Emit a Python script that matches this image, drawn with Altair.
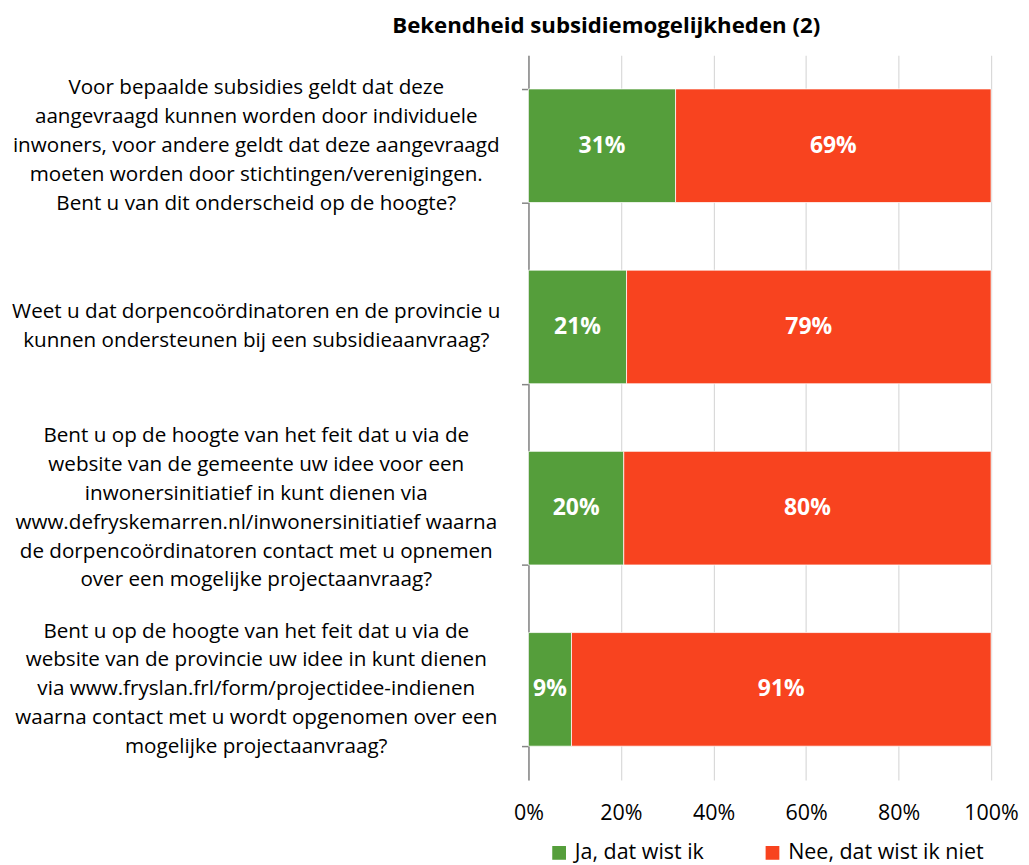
import altair as alt
import pandas as pd

questions = [
    "Voor bepaalde subsidies geldt dat deze|aangevraagd kunnen worden door individuele|inwoners, voor andere geldt dat deze aangevraagd|moeten worden door stichtingen/verenigingen.|Bent u van dit onderscheid op de hoogte?",
    "Weet u dat dorpencoördinatoren en de provincie u|kunnen ondersteunen bij een subsidieaanvraag?",
    "Bent u op de hoogte van het feit dat u via de|website van de gemeente uw idee voor een|inwonersinitiatief in kunt dienen via|www.defryskemarren.nl/inwonersinitiatief waarna|de dorpencoördinatoren contact met u opnemen|over een mogelijke projectaanvraag?",
    "Bent u op de hoogte van het feit dat u via de|website van de provincie uw idee in kunt dienen|via www.fryslan.frl/form/projectidee-indienen|waarna contact met u wordt opgenomen over een|mogelijke projectaanvraag?",
]
series = ["Ja, dat wist ik", "Nee, dat wist ik niet"]
ja_values = [31.8, 21.2, 20.6, 9.3]
nee_values = [68.2, 78.8, 79.4, 90.7]
ja_labels = ["31%", "21%", "20%", "9%"]
nee_labels = ["69%", "79%", "80%", "91%"]
colors = ["#559E3B", "#F8431F"]
x_ticks = [0, 20, 40, 60, 80, 100]

rows = []
for i, q in enumerate(questions):
    rows.append({"q": q, "series": series[0], "value": ja_values[i], "label": ja_labels[i], "ord": 0})
    rows.append({"q": q, "series": series[1], "value": nee_values[i], "label": nee_labels[i], "ord": 1})
df = pd.DataFrame(rows)
qdf = pd.DataFrame({"q": questions})

FONT = "Open Sans"
QFS = 20.7
AFS = 21.5
LH = 29

y_scale = alt.Scale(domain=questions, paddingInner=0.373, paddingOuter=0.1865)

y_enc = alt.Y(
    "q:N", sort=questions, title=None, scale=y_scale,
    axis=alt.Axis(
        labels=False,
        tickBand="extent", tickSize=7, tickColor="#868686", tickWidth=1.5,
        domainColor="#868686", domainWidth=1.5, grid=False,
    ),
)

base = alt.Chart(df).transform_stack(
    stack="value", as_=["x0", "x1"], groupby=["q"], sort=[alt.SortField("ord")]
).transform_calculate(mid="(datum.x0 + datum.x1) / 2")

bars = base.mark_bar(stroke="#ffffff", strokeWidth=0.75).encode(
    x=alt.X(
        "x0:Q", title=None,
        scale=alt.Scale(domain=[0, 100], nice=False),
        axis=alt.Axis(
            values=x_ticks, labelExpr="datum.value + '%'", labelFlush=False,
            domain=False, ticks=False, grid=True, gridColor="#D9D9D9", gridWidth=1.2,
            labelFont=FONT, labelFontSize=AFS, labelColor="#000000", labelPadding=23,
        ),
    ),
    x2="x1:Q",
    y=y_enc,
    color=alt.Color(
        "series:N", sort=series,
        scale=alt.Scale(domain=series, range=colors),
        legend=alt.Legend(
            title=None, orient="none", direction="horizontal",
            legendX=20, legendY=789,
            symbolType="square", symbolSize=190, symbolStrokeWidth=0,
            labelFont=FONT, labelFontSize=AFS, labelColor="#000000", labelLimit=0,
            columnPadding=57, labelOffset=5,
        ),
    ),
)

texts = base.mark_text(
    color="#ffffff", fontWeight="bold", font=FONT, fontSize=23
).encode(
    x=alt.X("mid:Q"),
    y=alt.Y("q:N", sort=questions, scale=y_scale),
    text="label:N",
)

label_layers = []
for q in questions:
    n = len(q.split("|"))
    label_layers.append(
        alt.Chart(qdf).transform_filter(alt.datum.q == q).mark_text(
            font=FONT, fontSize=QFS, color="#000000", align="center", baseline="middle",
            lineBreak="|", lineHeight=LH, dy=-(n - 1) * LH / 2,
        ).encode(
            x=alt.value(-273),
            y=alt.Y("q:N", sort=questions, scale=y_scale),
            text="q:N",
        )
    )

chart = alt.layer(bars, texts, *label_layers).properties(
    width=464, height=727,
    title=alt.TitleParams(
        "Bekendheid subsidiemogelijkheden (2)",
        font=FONT, fontSize=22.3, fontWeight="bold", color="#000000",
        anchor="middle", dx=-154, offset=18,
    ),
    autosize=alt.AutoSizeParams(type="none"),
    padding={"left": 522, "top": 46, "right": 30, "bottom": 84},
).configure_view(stroke=None)

chart.save("out.html", embed_options={"renderer": "svg", "actions": False})
